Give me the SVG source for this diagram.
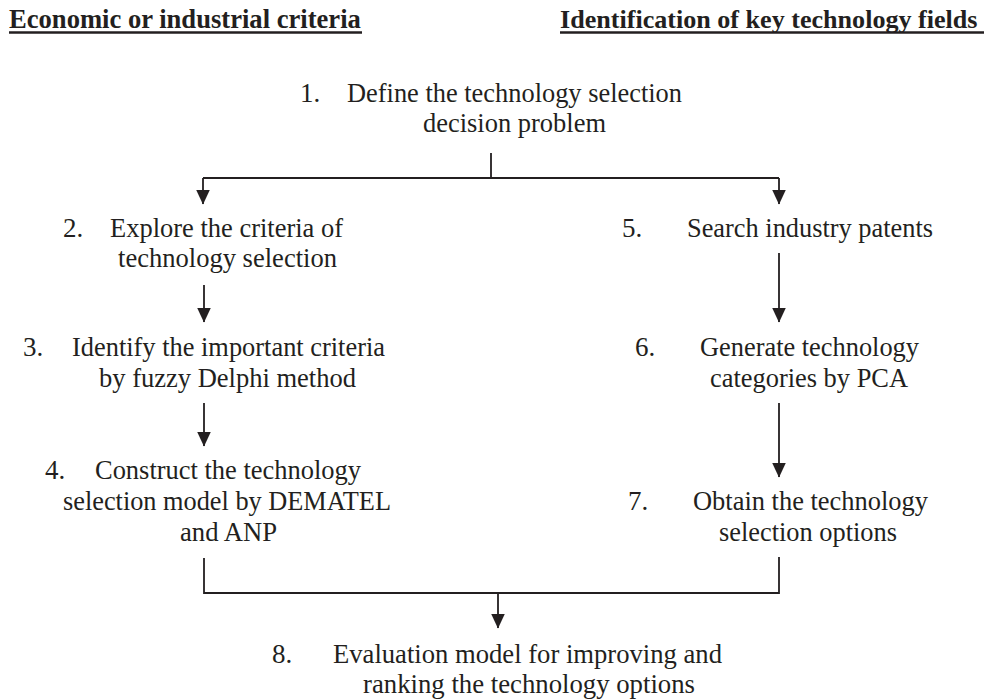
<svg xmlns="http://www.w3.org/2000/svg" width="984" height="699" viewBox="0 0 984 699">
  <defs>
    <style>
      text { font-family: "Liberation Serif", "Times New Roman", serif; font-size: 28px; fill: #231f20; }
      .num { font-size: 27px; }
      .head { font-weight: bold; font-size: 26.6px; }
      .head-r { font-size: 26.1px; }
      .rule { stroke: #231f20; stroke-width: 2.4; }
      .wire { fill: none; stroke: #231f20; stroke-width: 1.8; }
    </style>
    <marker id="arrow" viewBox="0 0 15 14" refX="14.5" refY="7" markerWidth="15" markerHeight="14" markerUnits="userSpaceOnUse" orient="auto">
      <path d="M0,0 L15,7 L0,14 z" fill="#231f20"/>
    </marker>
  </defs>

  <!-- column headings -->
  <g id="heading-economic">
    <text class="head" x="9" y="28">Economic or industrial criteria</text>
    <line class="rule" x1="9" y1="32.5" x2="362" y2="32.5"/>
  </g>
  <g id="heading-technology">
    <text class="head head-r" x="560" y="28">Identification of key technology fields</text>
    <line class="rule" x1="560" y1="32.5" x2="984" y2="32.5"/>
  </g>

  <!-- steps -->
  <g id="step-1">
    <text class="num" x="300" y="102">1.</text>
    <text x="347" y="102" textLength="335" lengthAdjust="spacingAndGlyphs">Define the technology selection</text>
    <text x="423" y="132" textLength="183" lengthAdjust="spacingAndGlyphs">decision problem</text>
  </g>
  <g id="step-2">
    <text class="num" x="63" y="237">2.</text>
    <text x="110" y="237" textLength="233" lengthAdjust="spacingAndGlyphs">Explore the criteria of</text>
    <text x="118" y="267" textLength="219" lengthAdjust="spacingAndGlyphs">technology selection</text>
  </g>
  <g id="step-3">
    <text class="num" x="23" y="356">3.</text>
    <text x="72" y="356" textLength="313" lengthAdjust="spacingAndGlyphs">Identify the important criteria</text>
    <text x="99" y="387" textLength="257" lengthAdjust="spacingAndGlyphs">by fuzzy Delphi method</text>
  </g>
  <g id="step-4">
    <text class="num" x="45" y="479">4.</text>
    <text x="95" y="479" textLength="266" lengthAdjust="spacingAndGlyphs">Construct the technology</text>
    <text x="63" y="510" textLength="328" lengthAdjust="spacingAndGlyphs">selection model by DEMATEL</text>
    <text x="180" y="541" textLength="97" lengthAdjust="spacingAndGlyphs">and ANP</text>
  </g>
  <g id="step-5">
    <text class="num" x="622" y="237">5.</text>
    <text x="687" y="237" textLength="246" lengthAdjust="spacingAndGlyphs">Search industry patents</text>
  </g>
  <g id="step-6">
    <text class="num" x="635" y="356">6.</text>
    <text x="700" y="356" textLength="219" lengthAdjust="spacingAndGlyphs">Generate technology</text>
    <text x="710" y="387" textLength="198" lengthAdjust="spacingAndGlyphs">categories by PCA</text>
  </g>
  <g id="step-7">
    <text class="num" x="628" y="510">7.</text>
    <text x="693" y="510" textLength="235" lengthAdjust="spacingAndGlyphs">Obtain the technology</text>
    <text x="719" y="541" textLength="178" lengthAdjust="spacingAndGlyphs">selection options</text>
  </g>
  <g id="step-8">
    <text class="num" x="272" y="663">8.</text>
    <text x="333" y="663" textLength="389" lengthAdjust="spacingAndGlyphs">Evaluation model for improving and</text>
    <text x="363" y="693" textLength="332" lengthAdjust="spacingAndGlyphs">ranking the technology options</text>
  </g>

  <!-- connectors -->
  <g id="connectors">
    <path class="wire" d="M491,153 V178 M203,178 H779"/>
    <path class="wire" d="M203,178 V204" marker-end="url(#arrow)"/>
    <path class="wire" d="M779,178 V204" marker-end="url(#arrow)"/>
    <path class="wire" d="M204,285 V322" marker-end="url(#arrow)"/>
    <path class="wire" d="M204,403 V446" marker-end="url(#arrow)"/>
    <path class="wire" d="M779,253 V322" marker-end="url(#arrow)"/>
    <path class="wire" d="M779,403 V477" marker-end="url(#arrow)"/>
    <path class="wire" d="M204,558 V593 H779 V557"/>
    <path class="wire" d="M498,593 V628" marker-end="url(#arrow)"/>
  </g>
</svg>
